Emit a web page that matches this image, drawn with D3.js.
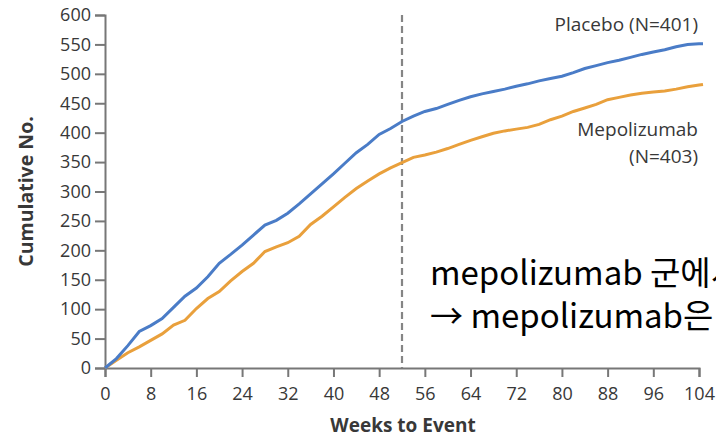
<!DOCTYPE html>
<html>
<head>
<meta charset="utf-8">
<script src="https://cdn.jsdelivr.net/npm/d3@7"></script>
<style>
  html, body { margin: 0; padding: 0; background: #fff; }
  svg { display: block; }
</style>
</head>
<body>
<svg id="chart" width="716" height="439"></svg>
<script>
// ---- data ----
const weeks = [0,2,4,6,8,10,12,14,16,18,20,22,24,26,28,30,32,34,36,38,40,42,44,46,48,50,52,
  54,56,58,60,62,64,66,68,70,72,74,76,78,80,82,84,86,88,90,92,94,96,98,100,102,104,104.7];
const placebo = [0,16,38,62,72,84,103,122,136,155,178,193,209,226,243,251,263,279,296,313,330,348,366,380,397,407,419,
  428,436,441,448,455,461,466,470,474,479,483,488,492,496,502,509,514,519,523,528,533,537,541,546,550,551,551];
const mepolizumab = [0,13,26,36,47,58,73,81,101,118,130,148,164,178,198,206,213,224,244,258,274,290,305,318,330,340,349,
  358,362,367,373,380,387,393,399,403,406,409,414,422,428,436,442,448,456,460,464,467,469,471,474,478,481,482];
const xTicks = [0,8,16,24,32,40,48,56,64,72,80,88,96,104];
const yTicks = [0,50,100,150,200,250,300,350,400,450,500,550,600];
const seriesNames = ["Placebo (N=401)", ["Mepolizumab", "(N=403)"]];
const cutoffWeek = 52;
const noteLines = ["mepolizumab 군에서", "→ mepolizumab은"];

// ---- layout ----
const svg = d3.select("#chart");
const mLeft = 105, mRight = 699, mTop = 15, mBottom = 368;
const x = d3.scaleLinear().domain([0, 104]).range([mLeft, mRight]);
const y = d3.scaleLinear().domain([0, 600]).range([mBottom, mTop]);
const textColor = "#383838";
const axisColor = "#777";
const font = "'Open Sans', sans-serif";

// axes
const yAxis = svg.append("g").attr("transform", `translate(${mLeft},0)`)
  .call(d3.axisLeft(y).tickValues(yTicks).tickSize(10).tickPadding(4).tickFormat(d3.format("d")));
const xAxis = svg.append("g").attr("transform", `translate(0,${mBottom})`)
  .call(d3.axisBottom(x).tickValues(xTicks).tickSize(9).tickPadding(10).tickFormat(d3.format("d")));
[yAxis, xAxis].forEach(g => {
  g.select(".domain").attr("stroke", axisColor).attr("stroke-width", 2);
  g.selectAll(".tick line").attr("stroke", axisColor).attr("stroke-width", 2);
  g.selectAll(".tick text").attr("fill", textColor).style("font-family", font).style("font-size", "18px");
});

// dashed cutoff line
svg.append("line")
  .attr("x1", x(cutoffWeek)).attr("x2", x(cutoffWeek))
  .attr("y1", y(600)).attr("y2", y(0))
  .attr("stroke", "#858585").attr("stroke-width", 2.2).attr("stroke-dasharray", "7,4");

// lines
const line = d3.line().x((d, i) => x(weeks[i])).y(d => y(d)).curve(d3.curveLinear);
svg.append("path").datum(mepolizumab).attr("d", line)
  .attr("fill", "none").attr("stroke", "#e9a03c").attr("stroke-width", 3);
svg.append("path").datum(placebo).attr("d", line)
  .attr("fill", "none").attr("stroke", "#4a7cc7").attr("stroke-width", 3);

// series labels
const lab = (t, yy) => svg.append("text").attr("x", 698).attr("y", yy).attr("text-anchor", "end")
  .attr("fill", textColor).style("font-family", font).style("font-size", "19px").text(t);
lab(seriesNames[0], 31);
lab(seriesNames[1][0], 136);
lab(seriesNames[1][1], 163);

// axis titles
svg.append("text").attr("transform", `translate(33,${(mTop + mBottom) / 2}) rotate(-90)`)
  .attr("text-anchor", "middle").attr("fill", textColor)
  .style("font-family", font).style("font-size", "19.5px").style("font-weight", "bold")
  .text("Cumulative No.");
svg.append("text").attr("x", (mLeft + mRight) / 2 + 1).attr("y", 432).attr("text-anchor", "middle")
  .attr("fill", textColor).style("font-family", font).style("font-size", "19px").style("font-weight", "bold")
  .text("Weeks to Event");

// overlay note
noteLines.forEach((t, i) => {
  svg.append("text").attr("x", 430).attr("y", 285 + i * 43)
    .attr("fill", "#000").style("font-family", "'Noto Sans CJK KR', sans-serif").style("font-size", "33px")
    .text(t);
});
</script>
</body>
</html>
